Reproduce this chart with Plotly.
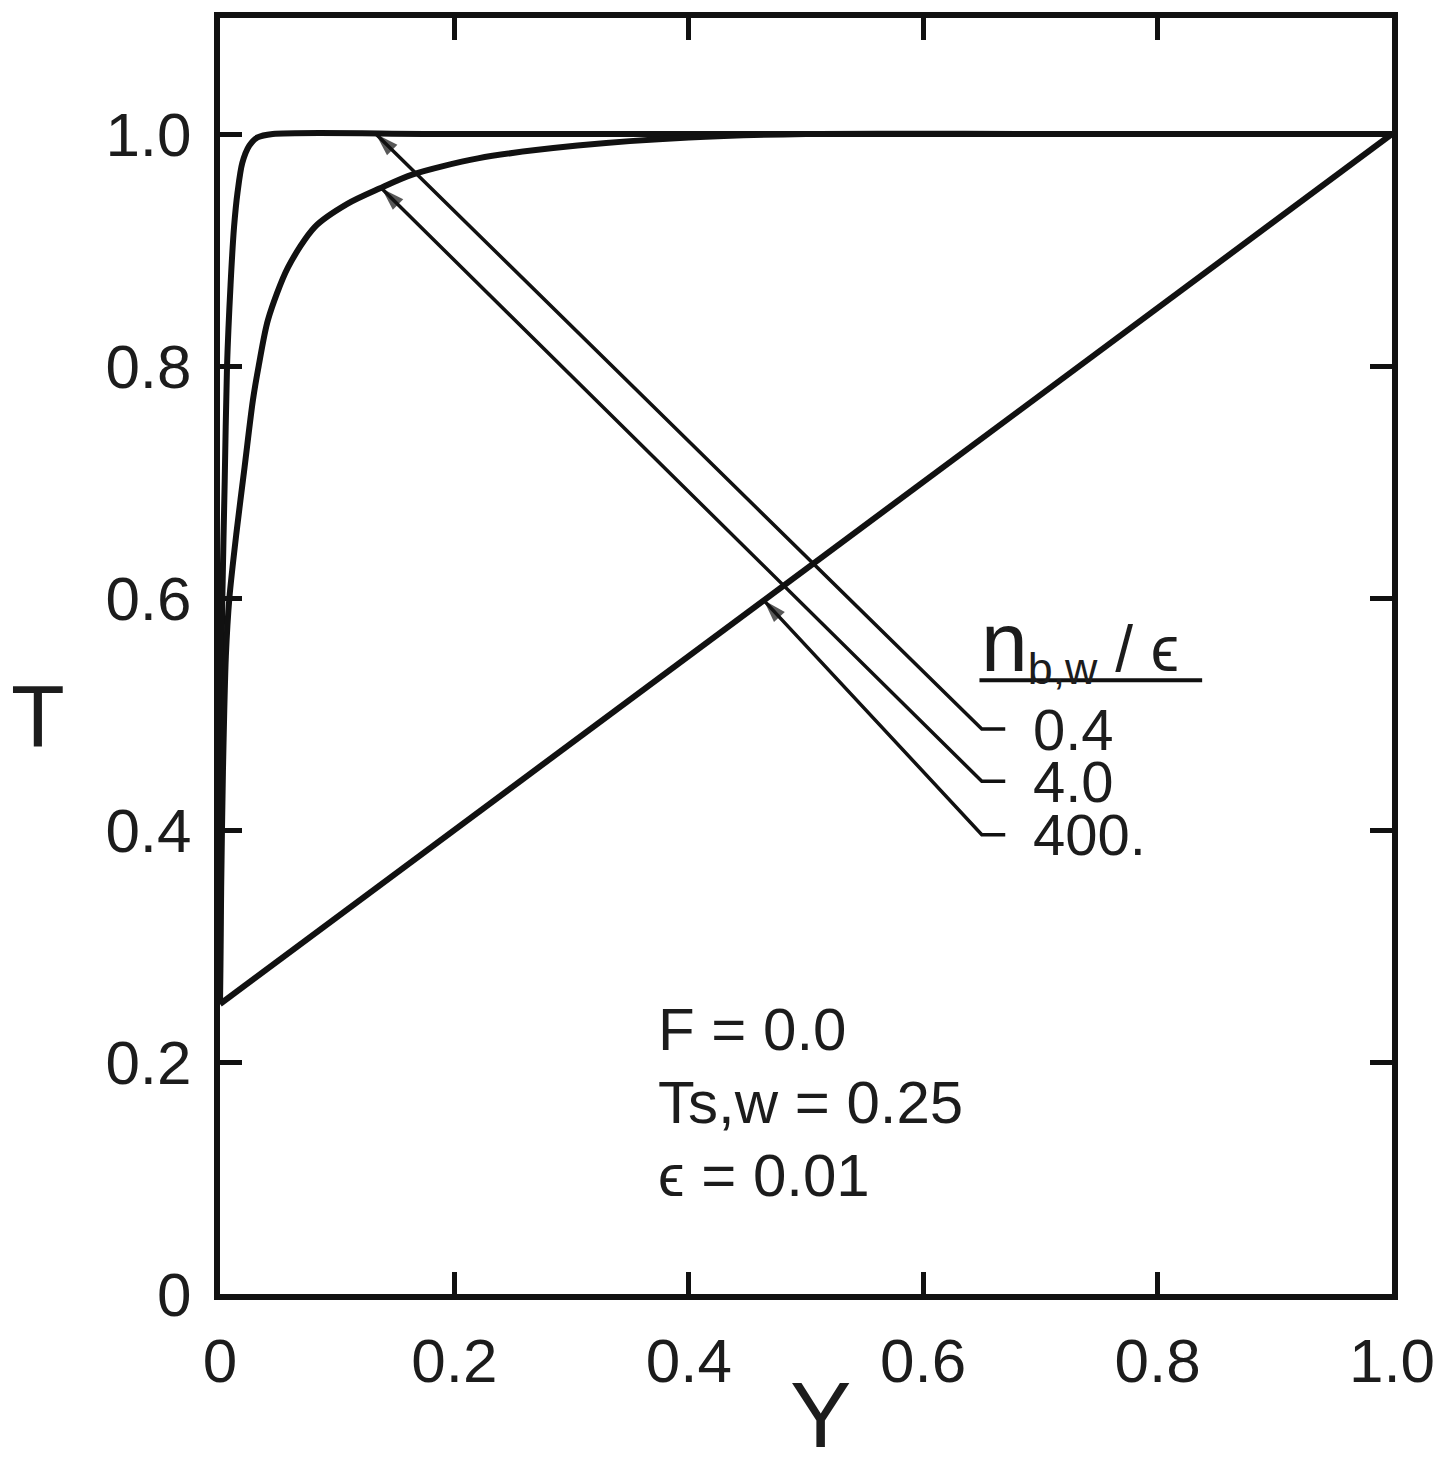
import plotly.graph_objects as go

# ---- data ----
x_ticks = [0, 0.2, 0.4, 0.6, 0.8, 1.0]
x_ticktext = ["0", "0.2", "0.4", "0.6", "0.8", "1.0"]
y_ticks = [0, 0.2, 0.4, 0.6, 0.8, 1.0]
y_ticktext = ["0", "0.2", "0.4", "0.6", "0.8", "1.0"]

# n_b,w/eps = 0.4 (steep curve)
y_04 = [0, 0.0008, 0.002, 0.004, 0.006, 0.009, 0.012, 0.015, 0.019, 0.025, 0.032, 0.045, 0.2, 1.0]
t_04 = [0.25, 0.5, 0.6, 0.7, 0.8, 0.87, 0.92, 0.95, 0.975, 0.99, 0.997, 1.0, 1.0, 1.0]

# n_b,w/eps = 4.0 (medium curve)
y_40 = [0, 0.001, 0.0025, 0.005, 0.008, 0.014, 0.021, 0.028, 0.033, 0.041, 0.058, 0.081,
        0.109, 0.136, 0.164, 0.22, 0.305, 0.4, 0.5, 0.7, 1.0]
t_40 = [0.25, 0.35, 0.45, 0.55, 0.6, 0.656, 0.713, 0.77, 0.8, 0.84, 0.885, 0.92,
        0.94, 0.953, 0.965, 0.979, 0.99, 0.997, 1.0, 1.0, 1.0]

# n_b,w/eps = 400 (linear)
y_400 = [0.0, 1.0]
t_400 = [0.25, 1.0]

labels = ["0.4", "4.0", "400."]
arrow_tip_x = [0.133, 0.138, 0.464]
arrow_tip_y = [1.0, 0.953, 0.598]
elbow_y = [0.487, 0.442, 0.396]

TXT = "#1c1c1c"
LINE = "#111111"
FONT = "Liberation Sans, DejaVu Sans, Arial, sans-serif"

fig = go.Figure()
for xs, ts in [(y_04, t_04), (y_40, t_40), (y_400, t_400)]:
    fig.add_trace(go.Scatter(x=xs, y=ts, mode="lines",
                             line=dict(color=LINE, width=6, shape="spline", smoothing=0.8),
                             showlegend=False, hoverinfo="skip"))

# label connectors with arrowheads
elbow_x = 0.65
stub_x = 0.67
for lab, tx, ty, ey in zip(labels, arrow_tip_x, arrow_tip_y, elbow_y):
    fig.add_trace(go.Scatter(x=[stub_x, elbow_x, tx], y=[ey, ey, ty], mode="lines+markers",
                             line=dict(color=LINE, width=3.5),
                             marker=dict(symbol="arrow", angleref="previous",
                                         size=[0, 0, 24], color=LINE, line=dict(width=0)),
                             showlegend=False, hoverinfo="skip"))
    fig.add_annotation(x=0.692, y=ey, xref="x", yref="y", text=lab, showarrow=False,
                       xanchor="left", yanchor="middle",
                       font=dict(family=FONT, size=58, color=TXT))

# legend header
fig.add_annotation(x=0.648, y=0.56, xref="x", yref="y",
                   text="<span style='font-size:84px'>n</span><sub>b,w</sub> / ϵ",
                   showarrow=False, xanchor="left", yanchor="middle",
                   font=dict(family=FONT, size=64, color=TXT))
fig.add_shape(type="line", x0=0.648, x1=0.838, y0=0.529, y1=0.529, xref="x", yref="y",
              line=dict(color=LINE, width=4))

# parameter text
for txt, yy in [("F = 0.0", 0.228), ("Ts,w = 0.25", 0.165), ("ϵ = 0.01", 0.102)]:
    fig.add_annotation(x=0.372, y=yy, xref="x", yref="y", text=txt, showarrow=False,
                       xanchor="left", yanchor="middle",
                       font=dict(family=FONT, size=60, color=TXT))

# axis titles
fig.add_annotation(x=(37 - 220) / 1180, y=(1294 - 715) / 1277, xref="paper", yref="paper",
                   text="T", showarrow=False, xanchor="center", yanchor="middle",
                   font=dict(family=FONT, size=88, color=TXT))
fig.add_annotation(x=(825 - 220) / 1180, y=(1294 - 1468) / 1277, xref="paper", yref="paper",
                   text="Y", showarrow=False, xanchor="center", yanchor="bottom",
                   font=dict(family=FONT, size=92, color=TXT))

axis_common = dict(showline=True, linewidth=6, linecolor=LINE, mirror="ticks",
                   ticks="inside", ticklen=22, tickwidth=5, tickcolor=LINE,
                   showgrid=False, zeroline=False,
                   tickfont=dict(family=FONT, size=62, color=TXT))

fig.update_xaxes(range=[0, 1.0], tickvals=x_ticks, ticktext=x_ticktext,
                 ticklabelstandoff=8, **axis_common)
fig.update_yaxes(range=[0, 1.1], tickvals=y_ticks, ticktext=y_ticktext,
                 ticklabelstandoff=10, **axis_common)

fig.update_layout(width=1447, height=1472, paper_bgcolor="white", plot_bgcolor="white",
                  margin=dict(l=220, r=47, t=17, b=178), showlegend=False)

fig.write_html("out.html")
